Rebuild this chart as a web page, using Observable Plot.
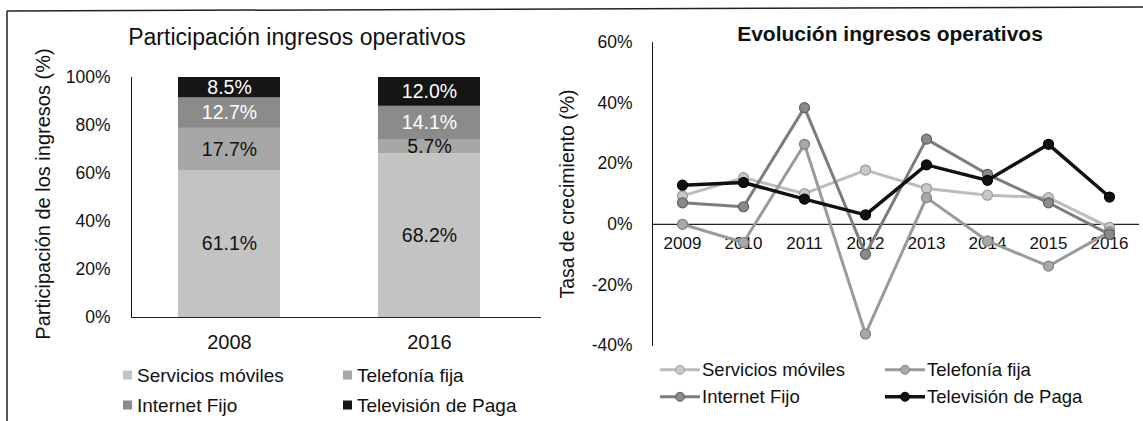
<!DOCTYPE html>
<html>
<head>
<meta charset="utf-8">
<script src="https://cdn.jsdelivr.net/npm/d3@7"></script>
<script src="https://cdn.jsdelivr.net/npm/@observablehq/plot@0.6"></script>
<style>
  html, body { margin: 0; padding: 0; background: #fff; }
  #wrap { position: relative; width: 1143px; height: 421px; overflow: hidden; background: #fff;
          font-family: "Liberation Sans", Arial, sans-serif; color: #111; }
  .abs { position: absolute; white-space: nowrap; line-height: 1; }
  .c { transform: translate(-50%, -50%); }
  .vl { transform: translate(-50%, -50%) rotate(-90deg); }
  .leg { position: absolute; display: flex; align-items: center; white-space: nowrap; transform: translateY(-50%); line-height: 1; }
  .sq { display: inline-block; width: 9px; height: 9px; margin-right: 5px; }
  #err { position: absolute; left: 150px; top: 120px; color: red; font-size: 12px; white-space: pre-wrap; width: 800px; }
</style>
</head>
<body>
<div id="wrap">
  <svg width="1143" height="421" style="left:0;top:0;position:absolute">
    <line x1="7" y1="11" x2="1143" y2="7" stroke="#222" stroke-width="1.5"/>
    <line x1="7" y1="11" x2="7" y2="421" stroke="#222" stroke-width="1.5"/>
  </svg>
  <div id="left" style="position:absolute;left:0;top:0"></div>
  <div id="right" style="position:absolute;left:560px;top:0"></div>
  <div class="abs c" style="left:297px;top:37px;font-size:23px">Participación ingresos operativos</div>
  <div class="abs vl" style="left:43px;top:194px;font-size:20px">Participación de los ingresos (%)</div>
  <div class="abs c" style="left:890px;top:33px;font-size:21px;font-weight:bold">Evolución ingresos operativos</div>
  <div class="abs vl" style="left:568px;top:194px;font-size:19.5px">Tasa de crecimiento (%)</div>
  <div id="legL"></div>
  <div id="legR"></div>
  <div id="err"></div>
</div>
<script>
// ---- data ----
const barYears = ["2008", "2016"];
const seriesNames = ["Servicios móviles", "Telefonía fija", "Internet Fijo", "Televisión de Paga"];
const share2008 = [61.1, 17.7, 12.7, 8.5];
const share2016 = [68.2, 5.7, 14.1, 12.0];
const shareTicks = [0, 20, 40, 60, 80, 100];

const growthYears = ["2009", "2010", "2011", "2012", "2013", "2014", "2015", "2016"];
const movil = [9.4, 15.4, 10.1, 17.9, 11.8, 9.6, 8.8, -1.0];
const fija = [0, -6.0, 26.4, -36.2, 8.8, -5.5, -13.8, -2.5];
const internet = [7.1, 5.8, 38.5, -9.9, 28.1, 16.5, 7.1, -3.3];
const tv = [12.9, 13.8, 8.3, 3.1, 19.6, 14.5, 26.4, 9.0];
const growthTicks = [-40, -20, 0, 20, 40, 60];

// ---- styles ----
const barColors = ["#c3c3c3", "#a7a7a7", "#8b8b8b", "#151515"];
const lineColors = ["#bcbcbc", "#9a9a9a", "#7c7c7c", "#111111"];
const dotFill = ["#c8c8c8", "#a8a8a8", "#8a8a8a", "#111111"];
const dotStroke = ["#9a9a9a", "#808080", "#606060", "#000000"];
const lineWidths = [3, 3, 3, 3.5];

const errBox = document.getElementById("err");
function report(e) { errBox.textContent += String(e && e.stack || e) + "\n"; }

// ---- left chart ----
try {
  const shares = [];
  barYears.forEach((yr, j) => {
    const vals = j === 0 ? share2008 : share2016;
    seriesNames.forEach((s, i) => shares.push({year: yr, series: s, value: vals[i], idx: i}));
  });
  const fmt = d => d.value.toFixed(1) + "%";
  const left = Plot.plot({
    width: 560, height: 360,
    marginLeft: 131, marginRight: 19, marginTop: 77, marginBottom: 43,
    style: {fontFamily: "Liberation Sans, Arial, sans-serif", fontSize: "17.5px", color: "#111", background: "transparent", overflow: "visible"},
    x: {type: "band", domain: barYears, paddingInner: 0.49, paddingOuter: 0.235, insetRight: 14, label: null, axis: null},
    y: {domain: [0, 100], ticks: shareTicks, tickFormat: d => d + "%", tickSize: 0, tickPadding: 21, label: null, line: true},
    color: {domain: seriesNames, range: barColors},
    marks: [
      Plot.barY(shares, Plot.stackY({x: "year", y: "value", fill: "series"})),
      Plot.text(shares, Plot.filter(d => d.idx < 2, Plot.stackY({x: "year", y: "value", text: fmt, fill: "#111", fontSize: 19.5}))),
      Plot.text(shares, Plot.filter(d => d.idx >= 2, Plot.stackY({x: "year", y: "value", text: fmt, fill: "#fff", fontSize: 19.5}))),
      Plot.text(barYears, {x: d => d, y: () => 0, dy: 25, text: d => d, fontSize: 20, fill: "#111"}),
      Plot.ruleY([0], {stroke: "#222", strokeWidth: 1.2})
    ]
  });
  document.getElementById("left").appendChild(left);
} catch (e) { report(e); }

// ---- right chart ----
try {
  const growth = [];
  const allSeries = [movil, fija, internet, tv];
  seriesNames.forEach((s, i) => growthYears.forEach((yr, k) => growth.push({series: s, year: yr, value: allSeries[i][k], idx: i})));

  const lineMarks = [];
  seriesNames.forEach((s, i) => {
    const d = growth.filter(g => g.idx === i);
    lineMarks.push(Plot.line(d, {x: "year", y: "value", stroke: lineColors[i], strokeWidth: lineWidths[i]}));
    lineMarks.push(Plot.dot(d, {x: "year", y: "value", r: 5, fill: dotFill[i], stroke: dotStroke[i], strokeWidth: 1.2}));
  });

  const right = Plot.plot({
    width: 583, height: 360,
    marginLeft: 92, marginRight: 4, marginTop: 42, marginBottom: 15,
    style: {fontFamily: "Liberation Sans, Arial, sans-serif", fontSize: "17.5px", color: "#111", background: "transparent", overflow: "visible"},
    x: {type: "point", domain: growthYears, padding: 0.47, axis: null},
    y: {domain: [-40, 60], ticks: growthTicks, tickFormat: d => d + "%", tickSize: 0, tickPadding: 20, label: null, line: true},
    marks: [
      Plot.ruleY([0], {stroke: "#222", strokeWidth: 1.2}),
      Plot.text(growthYears, {x: d => d, y: () => 0, dy: 19, text: d => d, fontSize: 17, fill: "#111"}),
      ...lineMarks
    ]
  });
  document.getElementById("right").appendChild(right);
} catch (e) { report(e); }

// ---- legends ----
const legL = document.getElementById("legL");
const lPos = [[123, 375], [343, 375], [123, 405], [343, 405]];
seriesNames.forEach((s, i) => {
  const el = document.createElement("div");
  el.className = "leg";
  el.style.left = lPos[i][0] + "px"; el.style.top = lPos[i][1] + "px"; el.style.fontSize = "19px";
  el.innerHTML = `<span class="sq" style="background:${barColors[i]}"></span><span>${s}</span>`;
  legL.appendChild(el);
});
const legR = document.getElementById("legR");
const rPos = [[660, 370], [885, 370], [660, 397], [885, 397]];
seriesNames.forEach((s, i) => {
  const el = document.createElement("div");
  el.className = "leg";
  el.style.left = rPos[i][0] + "px"; el.style.top = rPos[i][1] + "px"; el.style.fontSize = "18.5px";
  el.innerHTML = `<svg width="40" height="12" style="margin-right:2px"><line x1="0" y1="6" x2="40" y2="6" stroke="${lineColors[i]}" stroke-width="${lineWidths[i]}"/><circle cx="20" cy="6" r="4.5" fill="${dotFill[i]}" stroke="${dotStroke[i]}"/></svg><span>${s}</span>`;
  legR.appendChild(el);
});
</script>
</body>
</html>
